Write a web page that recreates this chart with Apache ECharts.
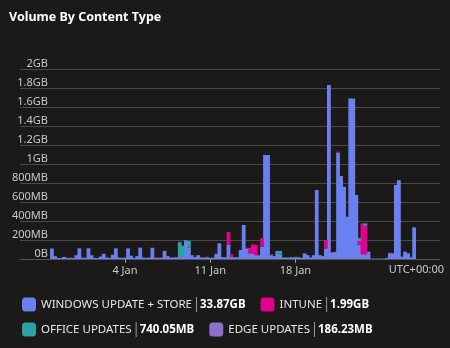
<!DOCTYPE html>
<html>
<head>
<meta charset="utf-8">
<script src="https://cdn.jsdelivr.net/npm/echarts@6/dist/echarts.min.js"></script>
<style>
html,body{margin:0;padding:0;background:#1b1a19;}
#c{width:450px;height:348px;}
</style>
</head>
<body>
<div id="c"></div>
<script>
// ---- data (MB per 6-hour bin) ----
const seriesNames = ['WINDOWS UPDATE + STORE', 'INTUNE', 'OFFICE UPDATES', 'EDGE UPDATES'];
const legendTotals = ['33.87GB', '1.99GB', '740.05MB', '186.23MB'];
const tickLabels = ['4 Jan', '11 Jan', '18 Jan'];
const yTicks = [0, 200, 400, 600, 800, 1000, 1200, 1400, 1600, 1800, 2000];

const windowsUpdate = [
  0,0,0,0,0,0,0,0,0,0,
  110,30,12,10,22,12,10,10,40,112,
  15,12,112,40,12,10,25,55,15,12,
  45,112,15,12,15,112,35,12,30,120,
  15,12,15,118,15,10,15,85,30,12,
  12,15,20,30,195,120,30,20,40,15,
  12,15,12,15,55,165,20,15,150,20,
  15,15,95,358,112,60,60,40,40,130,
  1095,1095,40,30,60,50,15,15,15,15,
  15,12,12,60,40,15,40,726,40,30,
  110,1832,70,75,1120,874,760,445,1690,1690,
  674,150,50,50,77,4,4,4,4,4,
  10,60,55,780,830,25,77,60,15,333,
  0,0,0,0,0,0,0,0
];
const intune = [
  0,0,0,0,0,0,0,0,0,0,
  0,0,0,0,0,0,4,3,0,0,
  0,0,0,0,0,0,0,0,0,0,
  0,0,0,0,0,0,0,0,0,0,
  0,0,0,0,3,5,0,0,0,0,
  0,0,0,0,0,0,0,0,0,0,
  0,0,0,0,0,0,0,0,135,30,
  0,0,0,0,8,50,95,110,5,90,
  0,0,10,0,0,0,0,0,0,0,
  0,0,0,0,0,0,0,0,0,0,
  90,0,5,0,10,0,0,0,0,0,
  0,40,325,300,0,0,0,0,0,0,
  0,0,0,0,0,0,0,0,0,0,
  0,0,0,0,0,0,0,0
];
const officeUpdates = [
  0,0,0,0,0,0,0,0,0,0,
  0,0,0,0,0,0,0,0,0,0,
  0,0,0,0,0,0,0,0,0,0,
  0,0,0,0,0,0,0,0,0,0,
  0,0,0,0,0,0,0,0,0,0,
  0,0,155,110,5,70,10,0,0,0,
  0,0,0,0,0,0,0,0,0,0,
  5,5,0,0,0,5,0,0,0,0,
  0,0,0,0,25,35,5,0,0,5,
  8,8,0,0,0,0,0,0,0,0,
  0,0,0,0,0,0,0,0,0,0,
  0,30,0,25,0,0,0,0,0,0,
  0,0,0,0,0,0,0,0,8,0,
  0,0,0,0,0,0,0,0
];
const edgeUpdates = [
  0,0,0,0,0,0,0,0,0,0,
  0,0,0,0,0,0,0,0,0,0,
  0,0,0,0,0,0,0,0,0,0,
  0,0,0,0,0,0,0,0,0,0,
  0,0,0,0,0,0,0,0,0,4,
  5,6,5,0,0,0,0,0,0,3,
  4,8,0,0,0,0,0,3,0,0,
  0,0,0,0,0,0,0,0,0,0,
  0,0,0,0,0,0,0,0,3,0,
  0,0,0,0,0,0,0,0,0,0,
  0,0,0,0,0,0,0,0,0,0,
  0,0,0,0,0,0,0,0,0,0,
  0,5,5,0,0,0,0,0,0,0,
  0,0,0,0,0,0,0,0
];
const colors = ['#6a80f0', '#e3008c', '#2aa3a3', '#8e70cc'];

// ---- category axis: 6-hour bins ----
const MONTHS = ['Jan','Feb','Mar','Apr','May','Jun','Jul','Aug','Sep','Oct','Nov','Dec'];
const startMs = Date.UTC(2025, 11, 26, 12);
const categories = windowsUpdate.map((_, i) => {
  const d = new Date(startMs + i * 6 * 3600 * 1000);
  const hh = String(d.getUTCHours()).padStart(2, '0');
  return d.getUTCDate() + ' ' + MONTHS[d.getUTCMonth()] + ' ' + hh + ':00';
});
const isTick = (idx, val) => val.endsWith(' 00:00') && tickLabels.includes(val.replace(' 00:00', ''));

const FONT = '"Noto Sans", "Open Sans", sans-serif';
const fmtY = v => v === 0 ? '0B' : (v < 1000 ? v + 'MB' : (v / 1000) + 'GB');

const legendRich = {
  n: { color: '#e6e6e6', fontSize: 11.5, fontFamily: FONT, padding: [0, 4, 0, 0] },
  s: { width: 1, height: 15, backgroundColor: '#9a9a9a' },
  v: { color: '#ffffff', fontSize: 11.5, fontWeight: 'bold', fontFamily: FONT, padding: [0, 0, 0, 3] }
};
const legendFormatter = name => {
  const k = seriesNames.indexOf(name);
  return '{n|' + name + '}{s| }{v|' + legendTotals[k] + '}';
};

const seriesData = [windowsUpdate, intune, officeUpdates, edgeUpdates];

const option = {
  backgroundColor: '#1b1a19',
  animation: false,
  title: {
    text: 'Volume By Content Type',
    left: 4, top: 6,
    textStyle: { color: '#ffffff', fontSize: 12.5, fontWeight: 'bold', fontFamily: FONT }
  },
  grid: { left: 20, right: 10, top: 69, bottom: 89 },
  legend: [
    {
      data: [seriesNames[0], seriesNames[1]],
      left: 17, top: 292, orient: 'horizontal',
      icon: 'roundRect', itemWidth: 14, itemHeight: 14, itemGap: 15,
      formatter: legendFormatter, textStyle: { rich: legendRich }
    },
    {
      data: [seriesNames[2], seriesNames[3]],
      left: 17, top: 317, orient: 'horizontal',
      icon: 'roundRect', itemWidth: 14, itemHeight: 14, itemGap: 15,
      formatter: legendFormatter, textStyle: { rich: legendRich }
    }
  ],
  graphic: [{
    type: 'text', right: 6, top: 264,
    style: { text: 'UTC+00:00', fill: '#c8c8c8', font: '11px ' + FONT }
  }],
  xAxis: {
    type: 'category',
    data: categories,
    boundaryGap: true,
    axisLine: { show: true, lineStyle: { color: '#555555' } },
    axisTick: { show: true, interval: isTick, alignWithLabel: true, length: 4, lineStyle: { color: '#9a9a9a' } },
    axisLabel: {
      interval: isTick,
      formatter: v => v.replace(' 00:00', ''),
      color: '#c8c8c8', fontSize: 11, fontFamily: FONT, margin: 6
    },
    splitLine: { show: false }
  },
  yAxis: {
    type: 'value',
    min: yTicks[0], max: yTicks[yTicks.length - 1], interval: yTicks[1] - yTicks[0],
    axisLine: { show: false },
    axisTick: { show: false },
    axisLabel: {
      formatter: fmtY, color: '#c8c8c8', fontSize: 11, fontFamily: FONT,
      margin: -28, align: 'right', verticalAlign: 'bottom', lineHeight: 11
    },
    splitLine: { show: true, lineStyle: { color: '#4a4a4a', width: 1 } }
  },
  series: seriesNames.map((name, k) => ({
    name: name,
    type: 'bar',
    stack: 'total',
    barCategoryGap: '-25%',
    itemStyle: { color: colors[k] },
    emphasis: { disabled: true },
    data: seriesData[k].map(v => (v === 0 ? null : v))
  }))
};

const chart = echarts.init(document.getElementById('c'), null, { renderer: 'canvas' });
chart.setOption(option);
</script>
</body>
</html>
